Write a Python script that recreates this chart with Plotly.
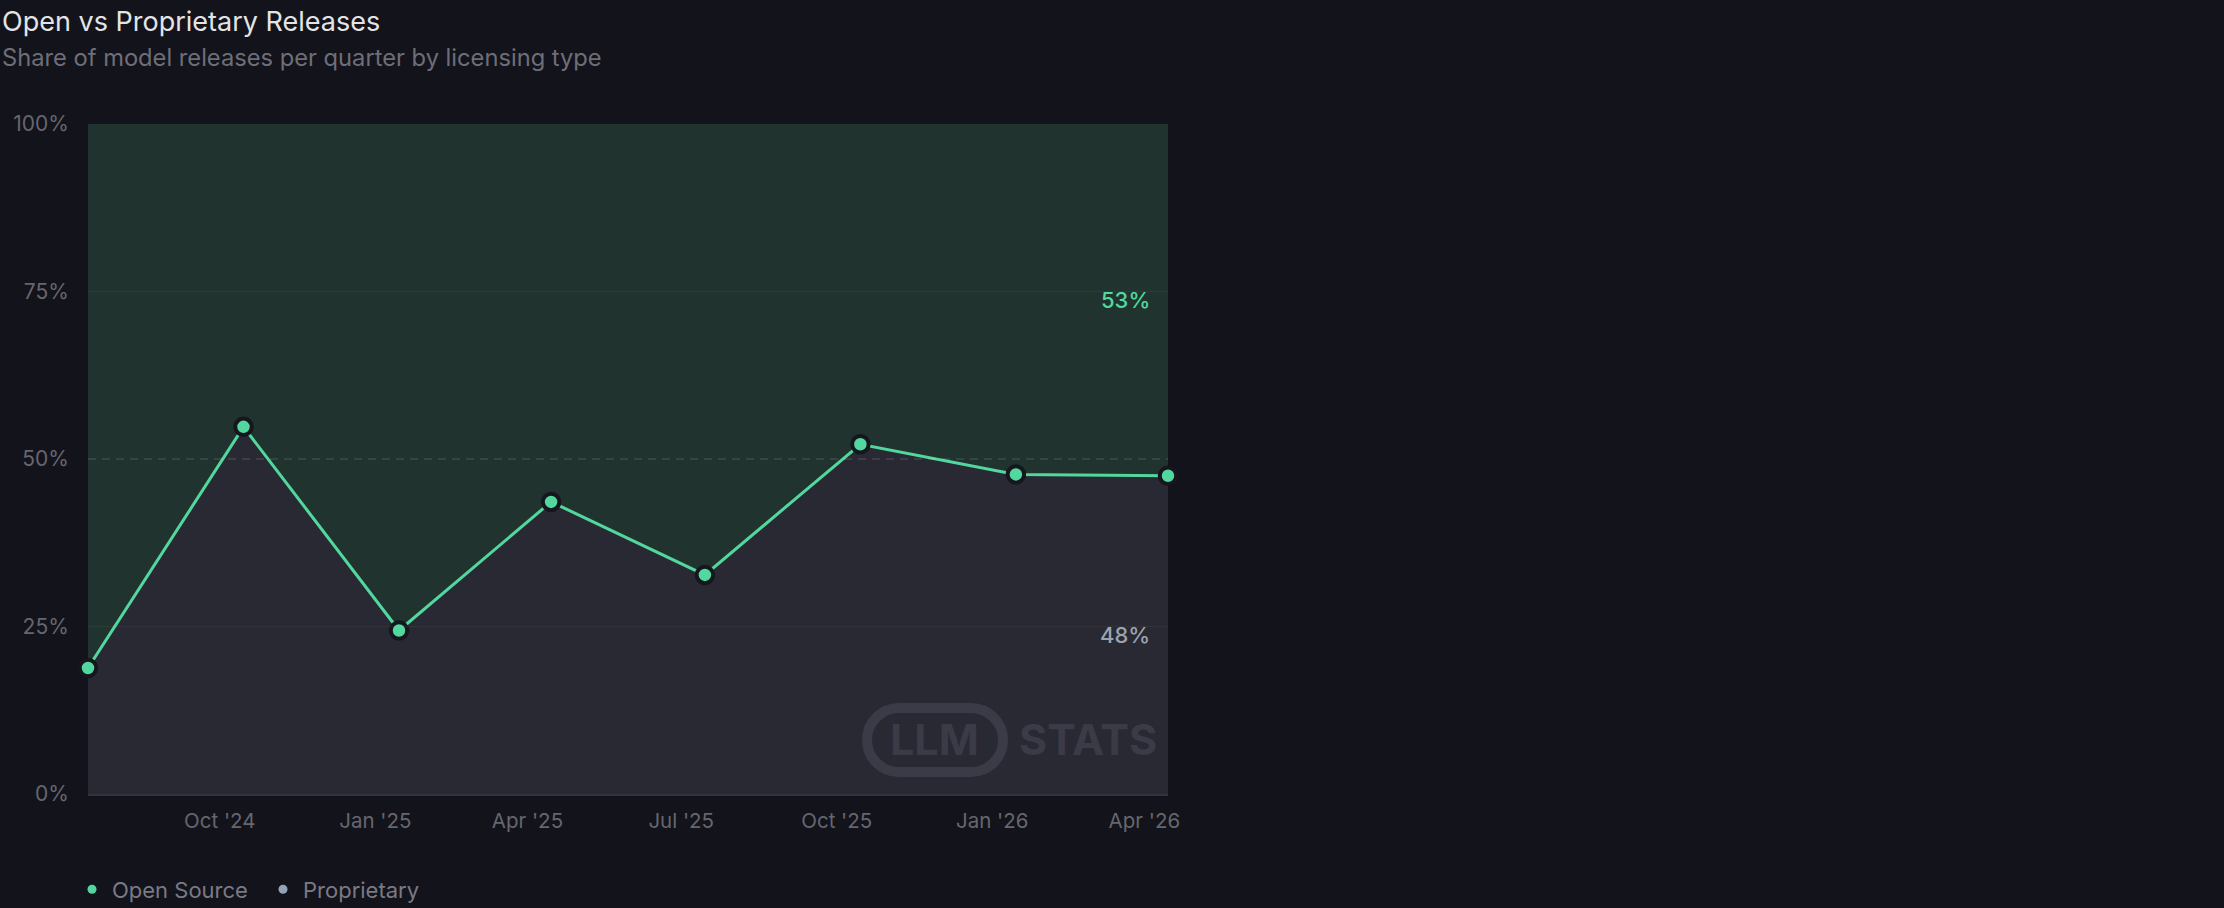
import plotly.graph_objects as go

# ---- data ----
quarters = ["2024-07-15", "2024-10-15", "2025-01-15", "2025-04-15",
            "2025-07-15", "2025-10-15", "2026-01-15", "2026-04-15"]
proprietary_pct = [18.8, 54.8, 24.4, 43.6, 32.7, 52.2, 47.7, 47.5]
open_source_pct = [81.2, 45.2, 75.6, 56.4, 67.3, 47.8, 52.3, 52.5]

x_tick_dates = ["2024-10-01", "2025-01-01", "2025-04-01", "2025-07-01",
                "2025-10-01", "2026-01-01", "2026-04-01"]
x_tick_labels = ["Oct '24", "Jan '25", "Apr '25", "Jul '25",
                 "Oct '25", "Jan '26", "Apr '26"]
y_tick_vals = [0, 25, 50, 75, 100]
y_tick_labels = ["0%", "25%", "50%", "75%", "100%"]

# ---- style ----
W, H = 2224, 908
ML, MR, MT, MB = 88, 1056, 124, 114
PW, PH = W - ML - MR, H - MT - MB
BG = "#13131b"
GREEN = "#52d89e"
SLATE = "#94a3b8"
FILL_PROP = "#292933"
FILL_OPEN = "#20332f"
FONT = "Inter"
WM = "#3b3b47"


def px_to_paper_x(px):
    return (px - ML) / PW


def px_to_paper_y(py):
    return (H - MB - py) / PH


fig = go.Figure()

# stacked areas
fig.add_trace(go.Scatter(
    x=quarters, y=proprietary_pct, stackgroup="share", mode="lines",
    line=dict(width=0), fillcolor=FILL_PROP, showlegend=False, hoverinfo="skip"))
fig.add_trace(go.Scatter(
    x=quarters, y=open_source_pct, stackgroup="share", mode="lines",
    line=dict(width=0), fillcolor=FILL_OPEN, showlegend=False, hoverinfo="skip"))

# boundary line with markers
fig.add_trace(go.Scatter(
    x=quarters, y=proprietary_pct, mode="lines+markers",
    line=dict(color=GREEN, width=3),
    marker=dict(size=16.5, color=GREEN, line=dict(color="#16161e", width=4)),
    cliponaxis=False, showlegend=False, hoverinfo="skip"))

# legend entries
fig.add_trace(go.Scatter(x=[None], y=[None], mode="markers", name="Open Source",
                         marker=dict(size=9, color=GREEN)))
fig.add_trace(go.Scatter(x=[None], y=[None], mode="markers", name="Proprietary",
                         marker=dict(size=9, color=SLATE)))

# grid lines (above fills, subtle)
shapes = []
for v in y_tick_vals[1:-1]:
    if v == 50:
        shapes.append(dict(type="line", xref="paper", x0=0, x1=1, yref="y", y0=v, y1=v,
                           line=dict(color="rgba(255,255,255,0.13)", width=1.5, dash="8px,6px"),
                           layer="above"))
    else:
        shapes.append(dict(type="line", xref="paper", x0=0, x1=1, yref="y", y0=v, y1=v,
                           line=dict(color="rgba(255,255,255,0.045)", width=1.5),
                           layer="above"))

# watermark pill
k = 0.5523
a, r = 68, 32
s = a - r
pill = (f"M {-s},{r} L {s},{r} C {s + k * r},{r} {a},{k * r} {a},0 "
        f"C {a},{-k * r} {s + k * r},{-r} {s},{-r} L {-s},{-r} "
        f"C {-s - k * r},{-r} {-a},{-k * r} {-a},0 "
        f"C {-a},{k * r} {-s - k * r},{r} {-s},{r} Z")
shapes.append(dict(type="path", path=pill, xref="paper", yref="paper",
                   xsizemode="pixel", ysizemode="pixel",
                   xanchor=px_to_paper_x(935), yanchor=px_to_paper_y(740),
                   line=dict(color=WM, width=10), fillcolor="rgba(0,0,0,0)",
                   layer="above"))

annotations = [
    dict(text="Open vs Proprietary Releases", xref="paper", yref="paper",
         x=px_to_paper_x(0), y=px_to_paper_y(21), xanchor="left", yanchor="middle",
         showarrow=False, font=dict(family=FONT, size=27, color="#e4e4e7")),
    dict(text="Share of model releases per quarter by licensing type", xref="paper", yref="paper",
         x=px_to_paper_x(0), y=px_to_paper_y(58), xanchor="left", yanchor="middle",
         showarrow=False, font=dict(family=FONT, size=23.7, color="#6e6e78")),
    dict(text="LLM", xref="paper", yref="paper", x=px_to_paper_x(934), y=px_to_paper_y(739),
         xanchor="center", yanchor="middle", showarrow=False,
         font=dict(family=FONT, size=43, color=WM, weight=700)),
    dict(text="STATS", xref="paper", yref="paper", x=px_to_paper_x(1088), y=px_to_paper_y(739),
         xanchor="center", yanchor="middle", showarrow=False,
         font=dict(family=FONT, size=43, color=WM, weight=700)),
    dict(text=f"{int(open_source_pct[-1] + 0.5)}%", x=quarters[-1],
         y=proprietary_pct[-1] + open_source_pct[-1] / 2, xref="x", yref="y",
         xanchor="right", yanchor="middle", xshift=-16, showarrow=False,
         font=dict(family=FONT, size=22, color=GREEN, weight=500)),
    dict(text=f"{int(proprietary_pct[-1] + 0.5)}%", x=quarters[-1],
         y=proprietary_pct[-1] / 2, xref="x", yref="y",
         xanchor="right", yanchor="middle", xshift=-16, showarrow=False,
         font=dict(family=FONT, size=22, color="#9ca3af", weight=500)),
]

fig.update_layout(
    width=W, height=H,
    margin=dict(l=ML, r=MR, t=MT, b=MB, autoexpand=False),
    paper_bgcolor=BG, plot_bgcolor=BG,
    font=dict(family=FONT, color="#66666f"),
    shapes=shapes, annotations=annotations,
    showlegend=True,
    legend=dict(orientation="h", xref="container", yref="container",
                x=72 / W, y=1 - 868.5 / H, xanchor="left", yanchor="top",
                traceorder="normal", entrywidth=146, entrywidthmode="pixels",
                font=dict(family=FONT, size=22, color="#7a7a84"),
                bgcolor="rgba(0,0,0,0)", itemclick=False),
    xaxis=dict(type="date", range=[quarters[0], quarters[-1]],
               tickvals=x_tick_dates, ticktext=x_tick_labels,
               showgrid=False, zeroline=False,
               showline=True, linecolor="#34343e", linewidth=2,
               ticks="outside", ticklen=7, tickcolor="rgba(0,0,0,0)",
               tickfont=dict(family=FONT, size=20.5, color="#66666f")),
    yaxis=dict(range=[0, 100], tickvals=y_tick_vals, ticktext=y_tick_labels,
               showgrid=False, zeroline=False, showline=False,
               ticks="outside", ticklen=14, tickcolor="rgba(0,0,0,0)",
               tickfont=dict(family=FONT, size=21, color="#66666f")),
    hovermode=False,
)

fig.write_html("out.html")
